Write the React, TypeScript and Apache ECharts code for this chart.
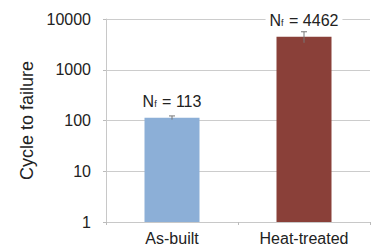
import React, { useEffect, useRef } from "react";
import * as echarts from "echarts";

const categories = ["As-built", "Heat-treated"];
const cycles = [113, 4462];
const errLow = [104, 3400];
const errHigh = [123, 5600];
const labels = ["113", "4462"];
const barColors = ["#8CAFD7", "#8A4039"];
const yTicks = [1, 10, 100, 1000, 10000];

export default function App() {
  const ref = useRef<HTMLDivElement>(null);
  useEffect(() => {
    if (!ref.current) return;
    const chart = echarts.init(ref.current, null, { renderer: "svg" });
    const font = "'Liberation Sans', Arial, sans-serif";
    chart.setOption({
      animation: false,
      backgroundColor: "#ffffff",
      grid: { left: 106, right: 7, top: 19, bottom: 30 },
      xAxis: {
        type: "category",
        data: categories,
        axisLine: { show: true, lineStyle: { color: "#c8c8c8" } },
        axisTick: { show: true, alignWithLabel: false, length: 3, lineStyle: { color: "#bbbbbb" } },
        axisLabel: { color: "#222", fontSize: 16, fontFamily: font, margin: 8 },
      },
      yAxis: {
        type: "log",
        logBase: 10,
        min: yTicks[0],
        max: yTicks[yTicks.length - 1],
        name: "Cycle to failure",
        nameLocation: "middle",
        nameGap: 70,
        nameTextStyle: { color: "#222", fontSize: 18, fontFamily: font },
        axisLine: { show: true, lineStyle: { color: "#c8c8c8" } },
        axisTick: { show: true, length: 3, lineStyle: { color: "#bbbbbb" } },
        splitLine: { show: true, lineStyle: { color: "#cccccc" } },
        axisLabel: {
          color: "#222",
          fontSize: 16,
          fontFamily: font,
          margin: 15,
          formatter: (v: number) => String(Math.round(v)),
        },
      },
      series: [
        {
          type: "bar",
          barWidth: 55,
          data: cycles.map((v, i) => ({
            value: v,
            itemStyle: { color: barColors[i] },
            label: {
              show: true,
              position: "top",
              distance: 8,
              formatter: `{n|N}{s|f}{n| = ${labels[i]}}`,
              backgroundColor: "#ffffff",
              padding: [0, 4, 0, 4],
              rich: {
                n: { fontSize: 16, fontFamily: font, color: "#222", lineHeight: 17 },
                s: { fontSize: 9, fontFamily: font, color: "#222", lineHeight: 10, padding: [5, 1, 0, 0] },
              },
            },
          })),
          z: 2,
        },
        {
          type: "custom",
          z: 3,
          data: cycles.map((_, i) => [i, errLow[i], errHigh[i]]),
          renderItem: (params: any, api: any) => {
            const x = api.value(0);
            const lo = api.coord([x, api.value(1)]);
            const hi = api.coord([x, api.value(2)]);
            const w = 3;
            const style = { stroke: "#777", lineWidth: 1 };
            return {
              type: "group",
              children: [
                { type: "line", shape: { x1: lo[0], y1: lo[1], x2: hi[0], y2: hi[1] }, style },
                { type: "line", shape: { x1: hi[0] - w, y1: hi[1], x2: hi[0] + w, y2: hi[1] }, style },
              ],
            };
          },
        },
      ],
    });
    return () => chart.dispose();
  }, []);
  return <div ref={ref} style={{ width: 377, height: 252, position: "absolute", left: 0, top: 0 }} />;
}
